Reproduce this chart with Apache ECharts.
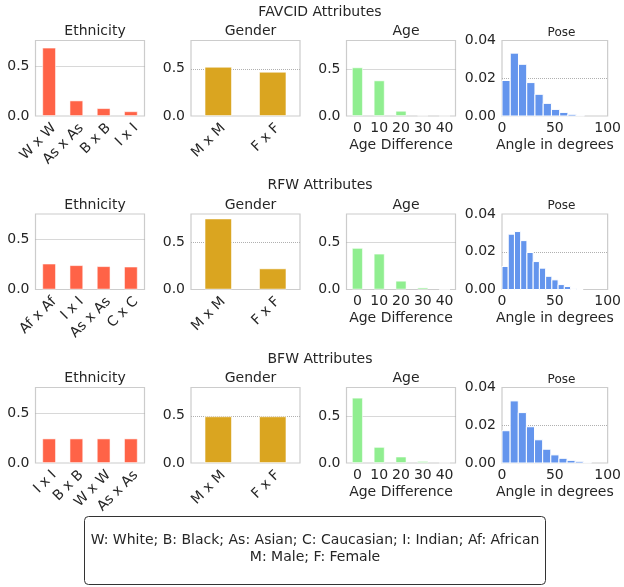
<!DOCTYPE html>
<html>
<head>
<meta charset="utf-8">
<script src="https://cdn.jsdelivr.net/npm/echarts@6/dist/echarts.min.js"></script>
<style>html,body{margin:0;padding:0;background:#fff}#c{width:624px;height:587px}</style>
</head>
<body>
<div id="c"></div>
<script>
// ---------- data ----------
const suptitles = ['FAVCID Attributes', 'RFW Attributes', 'BFW Attributes'];
const panelTitles = ['Ethnicity', 'Gender', 'Age', 'Pose'];

const favcidEthCats = ['W x W', 'As x As', 'B x B', 'I x I'];
const favcidEthVals = [0.683, 0.155, 0.078, 0.047];
const rfwEthCats = ['Af x Af', 'I x I', 'As x As', 'C x C'];
const rfwEthVals = [0.259, 0.243, 0.233, 0.229];
const bfwEthCats = ['I x I', 'B x B', 'W x W', 'As x As'];
const bfwEthVals = [0.245, 0.245, 0.245, 0.245];

const genderCats = ['M x M', 'F x F'];
const favcidGenderVals = [0.521, 0.468];
const rfwGenderVals = [0.752, 0.223];
const bfwGenderVals = [0.494, 0.494];

const ageCats = ['0', '10', '20', '30', '40'];
const favcidAgeVals = [0.518, 0.379, 0.055, 0.003, 0.0];
const rfwAgeVals = [0.443, 0.382, 0.093, 0.021, 0.001];
const bfwAgeVals = [0.696, 0.171, 0.068, 0.021, 0.001];

const favcidPoseEdges = [0, 7.8, 15.6, 23.4, 31.2, 39.0, 46.8, 54.6, 62.4, 70.2, 78.0];
const favcidPoseDensity = [0.0188, 0.0333, 0.0274, 0.0177, 0.0115, 0.0067, 0.0035, 0.0019, 0.0009, 0.0003];
const rfwPoseEdges = [0, 5.9, 11.8, 17.7, 23.6, 29.5, 35.4, 41.3, 47.2, 53.1, 59.0, 64.9, 70.8, 76.7];
const rfwPoseDensity = [0.0122, 0.0293, 0.0307, 0.0259, 0.0196, 0.0148, 0.0113, 0.0070, 0.0051, 0.0026, 0.0016, 0.0005, 0.0002];
const bfwPoseEdges = [0, 7.7, 15.4, 23.1, 30.8, 38.5, 46.2, 53.9, 61.6, 69.3, 77.0, 84.7];
const bfwPoseDensity = [0.0171, 0.0329, 0.0267, 0.0192, 0.0123, 0.0073, 0.0043, 0.0025, 0.0014, 0.0009, 0.0003];

const barYTicks = [0, 0.5];
const poseYTicks = [0, 0.02, 0.04];
const poseXTicks = [0, 50, 100];

const legendLines = ['W: White; B: Black; As: Asian; C: Caucasian; I: Indian; Af: African', 'M: Male; F: Female'];

// ---------- styling / layout ----------
const FONT = 'DejaVu Sans';
const TXT = '#262626';
const colors = ['#FF6347', '#DAA520', '#90EE90', '#6495ED'];
const colLeft = [35.5, 191, 346.5, 502];
const rowTop = [40.5, 214, 387.5];
const PW = 109, PH = 75.5;
const yMax = [0.755, 0.80, 0.805];

const rows = [
  { eth: [favcidEthCats, favcidEthVals], gen: favcidGenderVals, age: favcidAgeVals, pose: [favcidPoseEdges, favcidPoseDensity] },
  { eth: [rfwEthCats, rfwEthVals], gen: rfwGenderVals, age: rfwAgeVals, pose: [rfwPoseEdges, rfwPoseDensity] },
  { eth: [bfwEthCats, bfwEthVals], gen: bfwGenderVals, age: bfwAgeVals, pose: [bfwPoseEdges, bfwPoseDensity] }
];

const grids = [], xAxes = [], yAxes = [], series = [], titles = [];
const labelBase = { fontFamily: FONT, fontSize: 14, color: TXT };

rows.forEach((row, r) => {
  titles.push({
    text: suptitles[r], left: 315, top: rowTop[r] - 33.5,
    textAlign: 'center', textVerticalAlign: 'middle',
    textStyle: { fontFamily: FONT, fontSize: 14, fontWeight: 'normal', color: TXT }
  });
  for (let c = 0; c < 4; c++) {
    const gi = r * 4 + c;
    grids.push({ left: colLeft[c], top: rowTop[r], width: PW, height: PH, show: true, borderColor: '#cccccc', borderWidth: 1.2, backgroundColor: '#fff' });
    titles.push({
      text: panelTitles[c], left: colLeft[c] + PW / 2, top: rowTop[r] - (c === 3 ? 13 : 14),
      textAlign: 'center', textVerticalAlign: 'middle',
      textStyle: { fontFamily: FONT, fontSize: c === 3 ? 12 : 14, fontWeight: 'normal', color: TXT }
    });
    const splitLine = { show: true, showMinLine: false, showMaxLine: false, lineStyle: { type: 'dotted', color: '#b0b0b0', width: 1 } };
    if (c < 3) {
      let cats, vals;
      if (c === 0) { cats = row.eth[0]; vals = row.eth[1]; }
      else if (c === 1) { cats = genderCats; vals = row.gen; }
      else { cats = ageCats; vals = row.age; }
      const xa = {
        type: 'category', gridIndex: gi, data: cats, boundaryGap: true,
        axisLine: { show: false }, axisTick: { show: false }, splitLine: { show: false },
        axisLabel: Object.assign({}, labelBase, { interval: 0, margin: 5 })
      };
      if (c < 2) {
        xa.axisLabel.rotate = 45;
        xa.axisLabel.verticalAlign = 'top';
        xa.axisLabel.align = 'right';
      } else {
        xa.name = 'Age Difference';
        xa.nameLocation = 'middle';
        xa.nameGap = 22;
        xa.nameTextStyle = Object.assign({}, labelBase, { verticalAlign: 'top' });
      }
      xAxes.push(xa);
      yAxes.push({
        type: 'value', gridIndex: gi, min: barYTicks[0], max: yMax[c], interval: barYTicks[1] - barYTicks[0],
        axisLine: { show: false }, axisTick: { show: false }, splitLine,
        axisLabel: Object.assign({}, labelBase, { margin: 6, showMaxLabel: false, formatter: v => v.toFixed(1) })
      });
      series.push({
        type: 'bar', xAxisIndex: gi, yAxisIndex: gi, data: vals, barWidth: '50%',
        itemStyle: { color: colors[c], borderColor: 'rgba(255,255,255,0.7)', borderWidth: 0.8 },
        silent: true
      });
    } else {
      const edges = row.pose[0], dens = row.pose[1];
      xAxes.push({
        type: 'value', gridIndex: gi, min: poseXTicks[0], max: poseXTicks[2], interval: poseXTicks[1] - poseXTicks[0],
        axisLine: { show: false }, axisTick: { show: false }, splitLine: { show: false },
        axisLabel: Object.assign({}, labelBase, { margin: 5 }),
        name: 'Angle in degrees', nameLocation: 'middle', nameGap: 22,
        nameTextStyle: Object.assign({}, labelBase, { verticalAlign: 'top' })
      });
      yAxes.push({
        type: 'value', gridIndex: gi, min: poseYTicks[0], max: poseYTicks[2], interval: poseYTicks[1] - poseYTicks[0],
        axisLine: { show: false }, axisTick: { show: false }, splitLine,
        axisLabel: Object.assign({}, labelBase, { margin: 6, formatter: v => v.toFixed(2) })
      });
      const data = dens.map((d, i) => [edges[i], edges[i + 1], d]);
      series.push({
        type: 'custom', xAxisIndex: gi, yAxisIndex: gi, data, silent: true,
        encode: { x: [0, 1], y: 2 },
        renderItem: (params, api) => {
          const p0 = api.coord([api.value(0), api.value(2)]);
          const p1 = api.coord([api.value(1), 0]);
          return {
            type: 'rect',
            shape: { x: p0[0], y: p0[1], width: p1[0] - p0[0], height: p1[1] - p0[1] },
            style: { fill: colors[3], stroke: '#ffffff', lineWidth: 1 }
          };
        }
      });
    }
  }
});

const chart = echarts.init(document.getElementById('c'), null, { renderer: 'canvas' });
chart.setOption({
  animation: false,
  backgroundColor: '#ffffff',
  textStyle: { fontFamily: FONT },
  title: titles,
  grid: grids,
  xAxis: xAxes,
  yAxis: yAxes,
  series,
  graphic: [
    { type: 'rect', shape: { x: 84.5, y: 516.5, width: 461, height: 68, r: 4 }, style: { fill: '#fff', stroke: '#333', lineWidth: 1 } },
    { type: 'text', x: 315, y: 540.5, style: { text: legendLines[0], fontFamily: FONT, fontSize: 14, fill: TXT, align: 'center', verticalAlign: 'middle' } },
    { type: 'text', x: 315, y: 557.5, style: { text: legendLines[1], fontFamily: FONT, fontSize: 14, fill: TXT, align: 'center', verticalAlign: 'middle' } }
  ]
});
</script>
</body>
</html>
